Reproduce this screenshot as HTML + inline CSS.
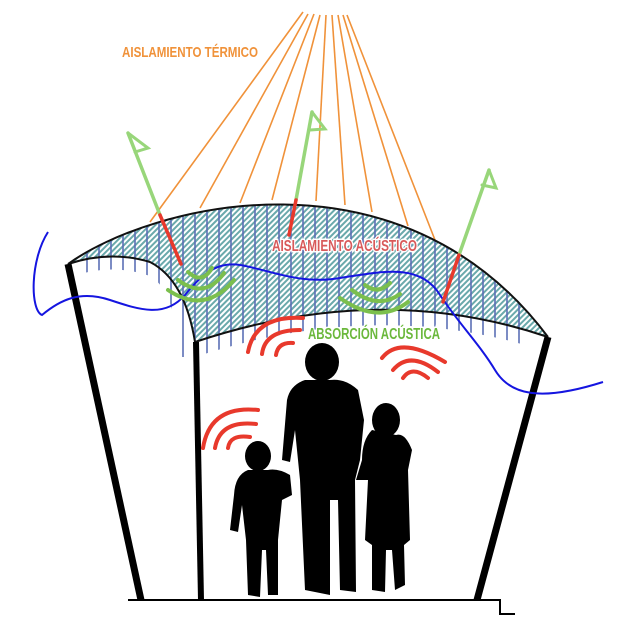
<!DOCTYPE html>
<html><head><meta charset="utf-8"><style>
html,body{margin:0;padding:0;background:#fff;width:618px;height:636px;overflow:hidden}
svg{display:block}
text{font-family:"Liberation Sans Narrow","Liberation Sans",sans-serif;font-weight:bold}
</style></head><body>
<svg width="618" height="636" viewBox="0 0 618 636" xmlns="http://www.w3.org/2000/svg">
<defs>
<pattern id="h" width="4" height="4" patternUnits="userSpaceOnUse" patternTransform="rotate(45)">
<rect width="4" height="4" fill="#fff"/><rect width="2" height="4" fill="#6aa9ab"/>
</pattern>
<clipPath id="lines"><path d="M68 264 C150 205 400 140 548 337 L548 352 Q380 296 195 357 L180 357 Q175 290 150 276 Q110 262 68 278Z"/></clipPath>
</defs>
<!-- orange lines -->
<g stroke="#f0923a" stroke-width="1.6">
<line x1="303" y1="12" x2="150" y2="222"/><line x1="308" y1="14" x2="200" y2="208"/>
<line x1="314" y1="14" x2="240" y2="203"/><line x1="320" y1="15" x2="272" y2="200"/>
<line x1="326" y1="15" x2="316" y2="201"/><line x1="332" y1="15" x2="345" y2="205"/>
<line x1="338" y1="15" x2="372" y2="212"/><line x1="343" y1="15" x2="408" y2="226"/>
<line x1="347" y1="15" x2="435" y2="240"/>
</g>
<!-- band -->
<path d="M68 264 C150 205 400 140 548 337 Q380 280 195 342 Q185 280 150 262 Q110 250 68 264Z" fill="url(#h)"/>
<g stroke="#5b6fb5" stroke-width="1.6" clip-path="url(#lines)">
<line x1="87" y1="150" x2="87" y2="400"/><line x1="99" y1="150" x2="99" y2="400"/>
<line x1="111" y1="150" x2="111" y2="400"/><line x1="123" y1="150" x2="123" y2="400"/>
<line x1="135" y1="150" x2="135" y2="400"/><line x1="147" y1="150" x2="147" y2="400"/>
<line x1="159" y1="150" x2="159" y2="400"/><line x1="171" y1="150" x2="171" y2="400"/>
<line x1="183" y1="150" x2="183" y2="400"/><line x1="195" y1="150" x2="195" y2="400"/>
<line x1="207" y1="150" x2="207" y2="400"/><line x1="219" y1="150" x2="219" y2="400"/>
<line x1="231" y1="150" x2="231" y2="400"/><line x1="243" y1="150" x2="243" y2="400"/>
<line x1="255" y1="150" x2="255" y2="400"/><line x1="267" y1="150" x2="267" y2="400"/>
<line x1="279" y1="150" x2="279" y2="400"/><line x1="291" y1="150" x2="291" y2="400"/>
<line x1="303" y1="150" x2="303" y2="400"/><line x1="315" y1="150" x2="315" y2="400"/>
<line x1="327" y1="150" x2="327" y2="400"/><line x1="339" y1="150" x2="339" y2="400"/>
<line x1="351" y1="150" x2="351" y2="400"/><line x1="363" y1="150" x2="363" y2="400"/>
<line x1="375" y1="150" x2="375" y2="400"/><line x1="387" y1="150" x2="387" y2="400"/>
<line x1="399" y1="150" x2="399" y2="400"/><line x1="411" y1="150" x2="411" y2="400"/>
<line x1="423" y1="150" x2="423" y2="400"/><line x1="435" y1="150" x2="435" y2="400"/>
<line x1="447" y1="150" x2="447" y2="400"/><line x1="459" y1="150" x2="459" y2="400"/>
<line x1="471" y1="150" x2="471" y2="400"/><line x1="483" y1="150" x2="483" y2="400"/>
<line x1="495" y1="150" x2="495" y2="400"/><line x1="507" y1="150" x2="507" y2="400"/>
<line x1="519" y1="150" x2="519" y2="400"/>
</g>
<g fill="none" stroke="#111" stroke-width="2">
<path d="M68 264 C150 205 400 140 548 337"/>
<path d="M548 337 Q380 280 195 342"/>
<path d="M68 264 Q110 250 150 262 Q185 280 195 342"/>
</g>
<!-- posts -->
<g stroke="#000" stroke-width="7">
<line x1="68" y1="264" x2="141" y2="600"/>
<line x1="548" y1="337" x2="477" y2="600"/>
</g>
<line x1="196" y1="342" x2="201" y2="600" stroke="#000" stroke-width="6"/>
<path d="M128 600 H500 V614 H515" fill="none" stroke="#000" stroke-width="2"/>
<!-- blue wave -->
<path d="M48 232 C30 260 30 310 42 315 C60 300 80 290 110 300 C140 310 165 318 185 295 C205 270 220 262 240 265 C270 270 300 285 340 278 C380 272 420 262 440 295 C460 325 480 345 495 370 C510 395 540 402 603 382" fill="none" stroke="#1515e0" stroke-width="2"/>
<!-- arrows -->
<g fill="none" stroke-linecap="round">
<line x1="128" y1="133" x2="160" y2="215" stroke="#98d67a" stroke-width="3.5"/>
<line x1="160" y1="215" x2="181" y2="264" stroke="#e8392c" stroke-width="3.5"/>
<path d="M128 133 L148 148 L135 152" stroke="#98d67a" stroke-width="3"/>
<line x1="312" y1="112" x2="296" y2="200" stroke="#98d67a" stroke-width="3.5"/>
<line x1="296" y1="200" x2="289" y2="235" stroke="#e8392c" stroke-width="3.5"/>
<path d="M312 112 L325 129 L310 130" stroke="#98d67a" stroke-width="3"/>
<line x1="489" y1="170" x2="459" y2="255" stroke="#98d67a" stroke-width="3.5"/>
<line x1="459" y1="255" x2="443" y2="302" stroke="#e8392c" stroke-width="3.5"/>
<path d="M489 170 L496 188 L482 185" stroke="#98d67a" stroke-width="3"/>
</g>
<!-- green arcs -->
<g fill="none" stroke="#7bbf4d" stroke-width="4" stroke-linecap="round">
<path d="M188 272 Q202 285 212 268"/>
<path d="M178 280 Q205 300 224 273"/>
<path d="M168 290 Q205 315 234 280"/>
<path d="M365 285 Q378 295 390 283"/>
<path d="M352 290 Q378 310 400 294"/>
<path d="M340 298 Q378 325 408 302"/>
</g>
<!-- red arcs -->
<g fill="none" stroke="#e8392c" stroke-width="4" stroke-linecap="round">
<path d="M248 352 Q255 315 303 318"/><path d="M262 354 Q265 330 300 330"/><path d="M276 355 Q278 342 293 343"/>
<path d="M382 358 Q400 335 445 362"/><path d="M393 370 Q410 350 438 372"/><path d="M403 378 Q412 365 428 378"/>
<path d="M203 448 Q210 405 258 410"/><path d="M215 448 Q220 420 256 424"/><path d="M228 448 Q230 434 250 437"/>
</g>
<!-- silhouettes -->
<g fill="#000">
<ellipse cx="322" cy="362" rx="17" ry="19"/>
<path d="M305 380 Q290 385 287 400 L282 460 L290 462 L295 430 L300 480 L305 590 L330 595 L330 500 L338 500 L340 590 L356 592 L355 480 L360 460 L364 420 L358 390 Q345 378 330 380Z"/>
<ellipse cx="258" cy="456" rx="13" ry="15"/>
<path d="M248 470 Q235 475 234 495 L230 530 L238 532 L242 505 L246 540 L248 595 L260 597 L262 550 L266 550 L268 595 L278 595 L278 540 L282 500 L292 495 L290 475 Q278 468 268 470Z"/>
<ellipse cx="386" cy="420" rx="14" ry="17"/>
<path d="M372 430 Q362 440 362 460 L356 480 L368 480 L365 540 L372 545 L372 590 L385 592 L386 550 L392 550 L395 590 L405 585 L404 545 L410 540 L408 470 L412 450 Q405 432 396 435 Z"/>
</g>
<!-- labels -->
<text x="122" y="57" font-size="15" fill="#f0923a" textLength="136" lengthAdjust="spacingAndGlyphs">AISLAMIENTO TÉRMICO</text>
<text x="272" y="251" font-size="16" fill="#d85a5a" stroke="#fff" stroke-width="3" paint-order="stroke" textLength="145" lengthAdjust="spacingAndGlyphs">AISLAMIENTO ACÚSTICO</text>
<text x="308" y="339" font-size="16" fill="#6bb83c" stroke="#fff" stroke-width="3" paint-order="stroke" textLength="132" lengthAdjust="spacingAndGlyphs">ABSORCIÓN ACÚSTICA</text>
</svg>
</body></html>
